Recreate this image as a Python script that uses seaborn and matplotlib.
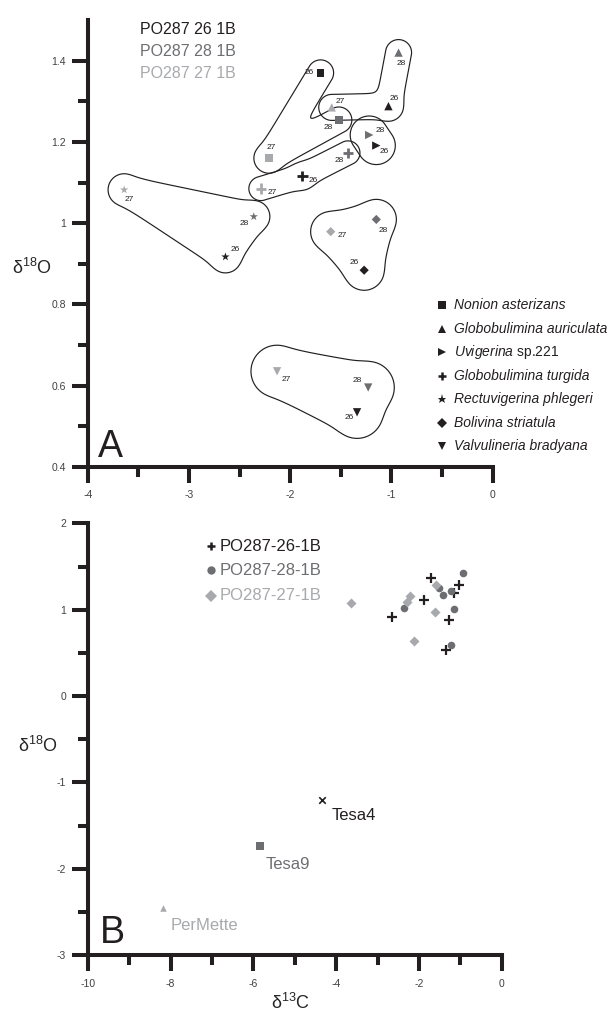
import numpy as np
import pandas as pd
import seaborn as sns
import matplotlib.pyplot as plt
from matplotlib.path import Path
from matplotlib.ticker import FuncFormatter

# Stable isotope values (d13C, d18O) per species and sample
species = ['Nonion asterizans', 'Globobulimina auriculata', 'Uvigerina sp.221',
           'Globobulimina turgida', 'Rectuvigerina phlegeri', 'Bolivina striatula',
           'Valvulineria bradyana']
samples = ['26', '28', '27']

d13c_26 = [-1.70, -1.03, -1.15, -1.88, -2.64, -1.27, -1.34]
d18o_26 = [1.370, 1.288, 1.191, 1.116, 0.917, 0.884, 0.534]
d13c_28 = [-1.52, -0.93, -1.22, -1.43, -2.36, -1.15, -1.23]
d18o_28 = [1.254, 1.420, 1.217, 1.173, 1.016, 1.009, 0.595]
d13c_27 = [-2.21, -1.59, np.nan, -2.29, -3.64, -1.60, -2.13]
d18o_27 = [1.160, 1.285, np.nan, 1.085, 1.082, 0.979, 0.635]

ref_names = ['Tesa4', 'Tesa9', 'PerMette']
ref_d13c = [-4.35, -5.84, -8.18]
ref_d18o = [-1.20, -1.74, -2.46]

# styling
BLACK, DARK, LIGHT = '#231f20', '#6d6e71', '#a7a9ac'
sample_colors = dict(zip(samples, [BLACK, DARK, LIGHT]))
species_markers = ['s', '^', '>', '+', '*', 'D', 'v']
species_sizes = [30, 36, 36, 55, 40, 22, 36]
# where the little sample numbers sit next to each point (px, right / down)
label_offsets = {
    '26': [(-11, 0), (6, -8), (8, 6), (11, 4), (10, -7), (-10, -8), (-8, 5)],
    '28': [(-11, 8), (3, 11), (11, -5), (-9, 8), (-10, 7), (7, 11), (-11, -7)],
    '27': [(2, -11), (8, -6), (0, 0), (11, 4), (5, 10), (11, 4), (9, 8)],
}
# outline of each species group: order of samples, closed or not, padding in px
hull_paths = [(['26', '27', '28'], False, 13), (['28', '26', '27'], False, 13),
              (['28', '26'], False, 19), (['27', '26', '28'], False, 12),
              (['27', '28', '26'], True, 14), (['28', '27', '26'], True, 18),
              (['27', '28', '26'], True, 24)]

df = pd.DataFrame({
    'species': species * 3,
    'sample': np.repeat(samples, len(species)),
    'd13C': d13c_26 + d13c_28 + d13c_27,
    'd18O': d18o_26 + d18o_28 + d18o_27,
}).dropna()

sns.set_style('ticks')
plt.rcParams['font.family'] = ['Liberation Sans', 'DejaVu Sans']
plt.rcParams['mathtext.fontset'] = 'custom'
plt.rcParams['mathtext.rm'] = 'Liberation Sans'
plt.rcParams['mathtext.it'] = 'Liberation Sans:italic'

fig = plt.figure(figsize=(6.16, 10.21), dpi=100)
ax1 = fig.add_axes([0.1424, 0.5429, 0.6575, 0.4374])
ax2 = fig.add_axes([0.1424, 0.0646, 0.6721, 0.4228])

fmt = FuncFormatter(lambda v, p: f'{v:g}')
for ax in (ax1, ax2):
    ax.spines[['top', 'right']].set_visible(False)
    for s in ('left', 'bottom'):
        ax.spines[s].set_linewidth(2.9)
        ax.spines[s].set_color(BLACK)
    ax.tick_params(which='major', length=11.5, width=2.9, color=BLACK,
                   labelsize=7.5, labelcolor='#414042', pad=4)
    ax.tick_params(which='minor', length=7, width=2.9, color=BLACK)
    ax.tick_params(axis='x', which='major', pad=5.5)
    ax.xaxis.set_major_formatter(fmt)
    ax.yaxis.set_major_formatter(fmt)

ax1.set_xlim(-4, 0)
ax1.set_ylim(0.4, 1.5)
ax1.set_xticks([-4, -3, -2, -1, 0])
ax1.set_xticks([-3.5, -2.5, -1.5, -0.5], minor=True)
ax1.set_yticks([0.4, 0.6, 0.8, 1.0, 1.2, 1.4])
ax1.set_yticks([0.5, 0.7, 0.9, 1.1, 1.3], minor=True)

ax2.set_xlim(-10, 0)
ax2.set_ylim(-3, 2)
ax2.set_xticks([-10, -8, -6, -4, -2, 0])
ax2.set_xticks([-9, -7, -5, -3, -1], minor=True)
ax2.set_yticks([-3, -2, -1, 0, 1, 2])
ax2.set_yticks([-2.5, -1.5, -0.5, 0.5, 1.5], minor=True)


def draw_hull(ax, xs, ys, closed, pad, k=3.0):
    # smooth outline at a fixed pixel distance around a group of points
    pts = ax.transData.transform(np.column_stack([xs, ys]))
    gx = np.linspace(*ax.get_xlim(), 500)
    gy = np.linspace(*ax.get_ylim(), 550)
    X, Y = np.meshgrid(gx, gy)
    P = ax.transData.transform(np.column_stack([X.ravel(), Y.ravel()]))
    segs = list(zip(pts[:-1], pts[1:]))
    if closed:
        segs.append((pts[-1], pts[0]))
    ds = []
    for a, b in segs:
        ab = b - a
        t = np.clip(((P - a) @ ab) / (ab @ ab), 0, 1)
        proj = a + t[:, None] * ab
        ds.append(np.hypot(*(P - proj).T))
    ds = np.array(ds)
    m = ds.min(axis=0)
    d = m - k * np.log(np.exp(-(ds - m) / k).sum(axis=0))
    if closed:
        d[Path(pts).contains_points(P)] = -1
    ax.contour(X, Y, d.reshape(X.shape), levels=[pad], colors=BLACK,
               linewidths=0.85, zorder=2)


# ---- panel A
for i, (name, mk) in enumerate(zip(species, species_markers)):
    sub = df[df['species'] == name]
    kw = dict(linewidth=2) if mk == '+' else dict(linewidth=0)
    sns.scatterplot(data=sub, x='d13C', y='d18O', hue='sample', palette=sample_colors,
                    marker=mk, s=species_sizes[i], legend=False, ax=ax1, zorder=3, **kw)
    for _, r in sub.iterrows():
        dx, dy = label_offsets[r['sample']][i]
        ax1.annotate(r['sample'], (r['d13C'], r['d18O']), xytext=(dx * 0.72, -dy * 0.72),
                     textcoords='offset points', ha='center', va='center',
                     fontsize=6, color=BLACK)
    order, closed, pad = hull_paths[i]
    g = sub.set_index('sample').loc[order]
    draw_hull(ax1, g['d13C'].values, g['d18O'].values, closed, pad)

ax1.set_xlabel('')
ax1.set_ylabel('δ$^{18}$O', fontsize=13, rotation=0, ha='center', va='center')
ax1.yaxis.set_label_coords(-0.1375, 0.445)
ax1.text(0.024, 0.022, 'A', transform=ax1.transAxes, fontsize=27, color=BLACK,
         va='baseline')

# sample key, top left
for j, s in enumerate(samples):
    ax1.text(0.129, 0.9785 - j * 0.0485, f'PO287 {s} 1B', transform=ax1.transAxes,
             fontsize=11.5, color=sample_colors[s], va='center')

# species key, right side
for i, (name, mk) in enumerate(zip(species, species_markers)):
    yy = (466.7 - (305 + i * 23.5)) / 446.6
    ax1.plot(0.875, yy, marker=mk, color=BLACK, ms=5.5 if mk != '*' else 6.5,
             mew=1.8 if mk == '+' else 0, ls='none', transform=ax1.transAxes, clip_on=False)
    if name.startswith('Uvigerina'):
        label = r'$\mathit{Uvigerina}$ sp.221'
        style = 'normal'
    else:
        label = name
        style = 'italic'
    ax1.text(0.905, yy, label, transform=ax1.transAxes, fontsize=10, style=style,
             color=BLACK, va='center', clip_on=False)

# ---- panel B
b_markers = {'26': '+', '28': 'o', '27': 'D'}
b_sizes = {'26': 45, '28': 30, '27': 26}
for s in samples:
    sub = df[df['sample'] == s]
    kw = dict(linewidth=1.6) if b_markers[s] == '+' else dict(linewidth=0)
    sns.scatterplot(data=sub, x='d13C', y='d18O', color=sample_colors[s],
                    marker=b_markers[s], s=b_sizes[s], legend=False, ax=ax2, zorder=3, **kw)

ref_markers = ['x', 's', '^']
ref_colors = [BLACK, DARK, LIGHT]
ref_offsets = [(10, 16), (6, 18), (8, 17)]
for name, x, y, mk, c, (dx, dy) in zip(ref_names, ref_d13c, ref_d18o, ref_markers,
                                       ref_colors, ref_offsets):
    kw = dict(linewidth=1.2) if mk == 'x' else dict(linewidth=0)
    sns.scatterplot(x=[x], y=[y], color=c, marker=mk, s=30 if mk == 's' else 22,
                    legend=False, ax=ax2, zorder=3, **kw)
    ax2.annotate(name, (x, y), xytext=(dx * 0.72, -dy * 0.72), textcoords='offset points',
                 ha='left', va='center', fontsize=12, color=c)

for j, s in enumerate(samples):
    yy = [0.9467, 0.8909, 0.8318][j]
    ax2.plot(0.297, yy, marker=b_markers[s], color=sample_colors[s], ls='none',
             ms=6, mew=1.8 if s == '26' else 0, transform=ax2.transAxes)
    ax2.text(0.3196, yy, f'PO287-{s}-1B', transform=ax2.transAxes, fontsize=12,
             color=sample_colors[s], va='center')

ax2.set_xlabel('δ$^{13}$C', fontsize=13, va='center')
ax2.xaxis.set_label_coords(0.489, -0.112)
ax2.set_ylabel('δ$^{18}$O', fontsize=13, rotation=0, ha='center', va='center')
ax2.yaxis.set_label_coords(-0.12, 0.485)
ax2.text(0.03, 0.028, 'B', transform=ax2.transAxes, fontsize=27, color=BLACK,
         va='baseline')

fig.savefig('out.png', dpi=100)
plt.close(fig)
